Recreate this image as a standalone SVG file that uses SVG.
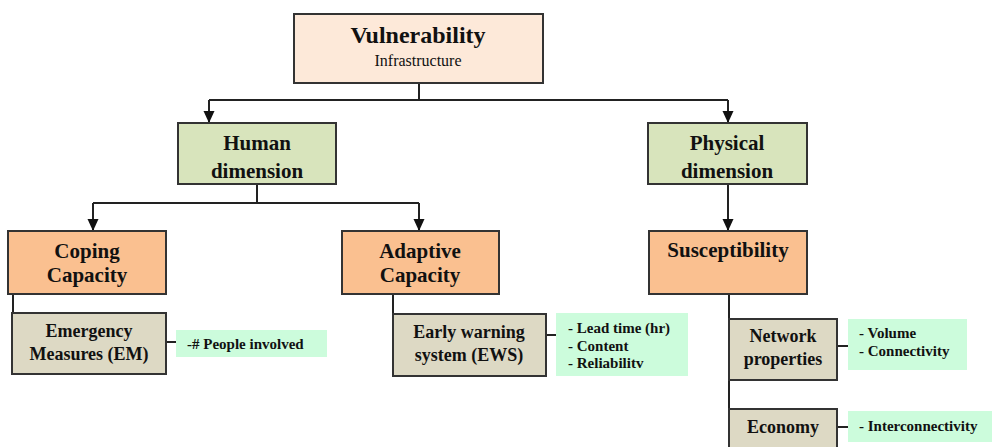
<svg xmlns="http://www.w3.org/2000/svg" width="992" height="447" viewBox="0 0 992 447">
<defs>
<marker id="arr" markerWidth="10" markerHeight="10" refX="5" refY="9" orient="auto" markerUnits="userSpaceOnUse" viewBox="0 0 10 10">
<path d="M0,0 L10,0 L5,10 Z" fill="#111" transform="rotate(-90 5 5)"/>
</marker>
<marker id="ah" markerWidth="12" markerHeight="12" refX="12" refY="6" orient="auto" markerUnits="userSpaceOnUse">
<path d="M0,0.5 L12,6 L0,11.5 Z" fill="#111"/>
</marker>
</defs>
<style>
.box{stroke:#333;stroke-width:2}
.t{font-family:"Liberation Serif","Times New Roman",serif;font-weight:bold;fill:#111;text-anchor:middle}
.big{font-size:24px}
.md{font-size:21px}
.sm{font-size:18px}
.g{font-family:"Liberation Serif","Times New Roman",serif;font-weight:bold;font-size:15px;fill:#111}
.c{fill:none;stroke:#222;stroke-width:2}
.peach{fill:#FDE9D9}
.green{fill:#D8E4BC}
.orange{fill:#FAC090}
.beige{fill:#DDD9C4}
.mint{fill:#CCFCDC}
</style>
<rect width="992" height="447" fill="#fff"/>
<g id="connectors">
<path class="c" d="M419,83 V100"/>
<path class="c" d="M209,100 H728"/>
<path class="c" d="M209,100 V123" marker-end="url(#ah)"/>
<path class="c" d="M728,100 V123" marker-end="url(#ah)"/>
<path class="c" d="M257,184 V203"/>
<path class="c" d="M93,203 H419"/>
<path class="c" d="M93,203 V231" marker-end="url(#ah)"/>
<path class="c" d="M419,203 V231" marker-end="url(#ah)"/>
<path class="c" d="M728,184 V231" marker-end="url(#ah)"/>
<path class="c" d="M13,294 V313"/>
<path class="c" d="M393,294 V314"/>
<path class="c" d="M729,294 V447"/>
<path class="c" d="M166,342 H176"/>
<path class="c" d="M546,335 H556"/>
<path class="c" d="M837,346 H848"/>
<path class="c" d="M837,427 H848"/>
</g>
<g id="vulnerability">
<rect class="box peach" x="294" y="14" width="249" height="69"/>
<text class="t big" x="418" y="43">Vulnerability</text>
<text class="t" x="418" y="66" style="font-weight:normal;font-size:16px">Infrastructure</text>
</g>
<g id="human">
<rect class="box green" x="178" y="123" width="158" height="61"/>
<text class="t md" x="257" y="150">Human</text>
<text class="t md" x="257" y="178">dimension</text>
</g>
<g id="physical">
<rect class="box green" x="648" y="123" width="159" height="61"/>
<text class="t md" x="727" y="150">Physical</text>
<text class="t md" x="727" y="178">dimension</text>
</g>
<g id="coping">
<rect class="box orange" x="8" y="231" width="158" height="63"/>
<text class="t md" x="87" y="258">Coping</text>
<text class="t md" x="87" y="282">Capacity</text>
</g>
<g id="adaptive">
<rect class="box orange" x="342" y="231" width="157" height="63"/>
<text class="t md" x="420" y="258">Adaptive</text>
<text class="t md" x="420" y="282">Capacity</text>
</g>
<g id="susceptibility">
<rect class="box orange" x="649" y="231" width="158" height="63"/>
<text class="t md" x="728" y="257">Susceptibility</text>
</g>
<g id="em">
<rect class="box beige" x="12" y="313" width="154" height="61"/>
<text class="t sm" x="89" y="337">Emergency</text>
<text class="t sm" x="89" y="360">Measures (EM)</text>
</g>
<g id="em-attr">
<rect class="mint" x="176" y="330" width="151" height="27"/>
<text class="g" x="187" y="349">-# People involved</text>
</g>
<g id="ews">
<rect class="box beige" x="393" y="314" width="153" height="62"/>
<text class="t sm" x="469" y="338">Early warning</text>
<text class="t sm" x="469" y="361">system (EWS)</text>
</g>
<g id="ews-attr">
<rect class="mint" x="556" y="313" width="132" height="63"/>
<text class="g" x="568" y="333">- Lead time (hr)</text>
<text class="g" x="568" y="351">- Content</text>
<text class="g" x="568" y="368">- Reliabilitv</text>
</g>
<g id="network">
<rect class="box beige" x="729" y="319" width="108" height="61"/>
<text class="t sm" x="783" y="342">Network</text>
<text class="t sm" x="783" y="365">properties</text>
</g>
<g id="network-attr">
<rect class="mint" x="848" y="319" width="119" height="51"/>
<text class="g" x="859" y="338">- Volume</text>
<text class="g" x="859" y="356">- Connectivity</text>
</g>
<g id="economy">
<rect class="box beige" x="729" y="409" width="108" height="45"/>
<text class="t sm" x="783" y="433">Economy</text>
</g>
<g id="economy-attr">
<rect class="mint" x="848" y="411" width="144" height="31"/>
<text class="g" x="859" y="431">- Interconnectivity</text>
</g>
</svg>
